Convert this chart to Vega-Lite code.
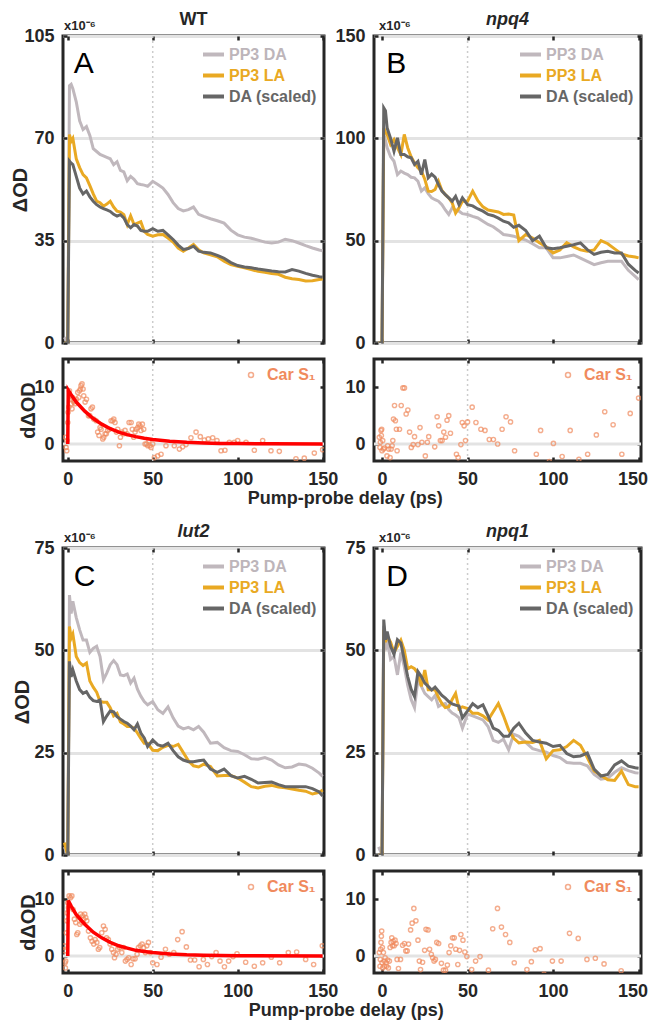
{
 "$schema": "https://vega.github.io/schema/vega-lite/v6.json",
 "background": "white",
 "padding": {"left": 9, "top": 9, "right": 0, "bottom": 0},
 "config": {
  "font": "Liberation Sans",
  "view": {"stroke": "#262626", "strokeWidth": 3},
  "axis": {"labelFont": "Liberation Sans", "labelFontSize": 18, "labelFontWeight": "bold", "labelColor": "#262626", "titleFont": "Liberation Sans", "titleFontSize": 20, "titleFontWeight": "bold", "titleColor": "#262626", "domain": false, "tickColor": "#262626", "tickWidth": 2.5, "tickSize": -4, "labelPadding": 13, "grid": false, "labelFlush": false},
  "axisY": {"grid": true, "gridColor": "#e3e3e3", "gridWidth": 3},
  "title": {"font": "Liberation Sans", "fontSize": 18, "fontWeight": "bold", "color": "#262626", "offset": -9},
  "legend": {"labelFont": "Liberation Sans", "labelFontWeight": "bold", "labelFontSize": 16, "padding": 0}
 },
 "datasets": {
  "A": [
   {"t":-2,"da":2,"la":0,"ds":0},{"t":0,"da":0,"la":0,"ds":0},{"t":1,"da":88,"la":71.3,"ds":62.2},{"t":2,"da":88.5,"la":69,"ds":61.5},{"t":3,"da":87,"la":70,"ds":61},{"t":5,"da":82.5,"la":63,"ds":57},{"t":7,"da":76,"la":60,"ds":53},{"t":9,"da":73,"la":57.6,"ds":51},{"t":11,"da":74,"la":56.5,"ds":52},{"t":13,"da":71,"la":53.8,"ds":50},{"t":15,"da":66.5,"la":51,"ds":48.5},{"t":17,"da":65.5,"la":48.5,"ds":47.3},{"t":19,"da":64.5,"la":48,"ds":46.5},{"t":21,"da":64,"la":46.8,"ds":46},{"t":23,"da":63.5,"la":47.5,"ds":45.5},{"t":25,"da":63,"la":48.5,"ds":45},{"t":27,"da":61,"la":46.5,"ds":44},{"t":29,"da":62,"la":45.1,"ds":43.4},{"t":31,"da":59,"la":44.8,"ds":43.9},{"t":33,"da":58.5,"la":43.9,"ds":42.8},{"t":35,"da":55.5,"la":40.5,"ds":40.5},{"t":37,"da":57,"la":43.5,"ds":39.4},{"t":39,"da":56,"la":40.5,"ds":40.5},{"t":41,"da":54.5,"la":41,"ds":40},{"t":43,"da":54.2,"la":41.5,"ds":38.5},{"t":45,"da":54,"la":38.2,"ds":38.2},{"t":47,"da":53.6,"la":37.1,"ds":38.2},{"t":50,"da":55.3,"la":36.5,"ds":39.1},{"t":53,"da":54.2,"la":37,"ds":38.2},{"t":56,"da":53,"la":37.1,"ds":38.5},{"t":59,"da":50.8,"la":35.9,"ds":37},{"t":62,"da":48,"la":34.5,"ds":35.4},{"t":65,"da":46,"la":32.5,"ds":33.5},{"t":68,"da":45.2,"la":31.4,"ds":32},{"t":71,"da":45.6,"la":32.5,"ds":32.3},{"t":74,"da":46.5,"la":33.7,"ds":33.1},{"t":77,"da":44,"la":31.9,"ds":31.4},{"t":80,"da":43.3,"la":30.8,"ds":31},{"t":84,"da":42.5,"la":30.2,"ds":30.8},{"t":88,"da":41.8,"la":29.5,"ds":30},{"t":92,"da":41,"la":28,"ds":29},{"t":96,"da":38.6,"la":26.8,"ds":27.5},{"t":100,"da":37,"la":26.2,"ds":26.5},{"t":104,"da":36.2,"la":25.7,"ds":26},{"t":108,"da":35.8,"la":25.1,"ds":25.7},{"t":112,"da":35.2,"la":24.5,"ds":25.3},{"t":116,"da":34.5,"la":24.2,"ds":25},{"t":120,"da":34.2,"la":23.8,"ds":24.6},{"t":124,"da":34.5,"la":23.5,"ds":24.4},{"t":128,"da":35.5,"la":22.5,"ds":24.3},{"t":132,"da":35,"la":22,"ds":25.1},{"t":136,"da":34.2,"la":21.7,"ds":24.6},{"t":140,"da":33.3,"la":21.2,"ds":23.8},{"t":144,"da":32.5,"la":21.3,"ds":23.2},{"t":148,"da":31.8,"la":21.7,"ds":22.7},{"t":150,"da":31.5,"la":21.9,"ds":22.5}
  ],
  "B": [
   {"t":-2,"da":0,"la":0,"ds":0},{"t":0,"da":0,"la":0,"ds":0},{"t":1,"da":101.9,"la":105,"ds":114.9},{"t":2,"da":99,"la":103,"ds":113.5},{"t":3,"da":95.4,"la":101.9,"ds":105},{"t":5,"da":91,"la":97,"ds":100},{"t":7,"da":88.8,"la":99.4,"ds":93.7},{"t":9,"da":82.3,"la":95.4,"ds":100.2},{"t":11,"da":84,"la":92,"ds":92.1},{"t":13,"da":83,"la":101.9,"ds":92.1},{"t":15,"da":82.3,"la":95.4,"ds":91},{"t":17,"da":81,"la":91,"ds":90.5},{"t":19,"da":80.7,"la":88,"ds":87.2},{"t":21,"da":79,"la":85.6,"ds":88.8},{"t":23,"da":74.2,"la":84,"ds":82.3},{"t":25,"da":75.8,"la":80,"ds":89.6},{"t":27,"da":73,"la":74.2,"ds":80.7},{"t":29,"da":70.9,"la":74,"ds":82.5},{"t":31,"da":70,"la":75,"ds":81},{"t":33,"da":69.3,"la":79,"ds":77.4},{"t":35,"da":67.6,"la":74.5,"ds":74.2},{"t":37,"da":65,"la":72.5,"ds":72.5},{"t":39,"da":62.8,"la":70.9,"ds":70.9},{"t":41,"da":66,"la":68.5,"ds":69.3},{"t":43,"da":65,"la":63.5,"ds":71.7},{"t":45,"da":64.4,"la":66,"ds":67.6},{"t":47,"da":63.2,"la":69.3,"ds":70.9},{"t":50,"da":62.8,"la":69.3,"ds":67.6},{"t":53,"da":61.9,"la":74.2,"ds":67},{"t":56,"da":61.1,"la":69.5,"ds":65.5},{"t":59,"da":59.5,"la":66.5,"ds":64.4},{"t":62,"da":57.9,"la":65,"ds":62.8},{"t":65,"da":56.8,"la":64.5,"ds":62.2},{"t":68,"da":55,"la":64,"ds":61},{"t":71,"da":53,"la":62.8,"ds":59.5},{"t":74,"da":52.6,"la":63,"ds":58.7},{"t":77,"da":52.2,"la":62.5,"ds":56.5},{"t":80,"da":51.3,"la":50,"ds":57.5},{"t":84,"da":50.3,"la":53,"ds":55},{"t":88,"da":48.5,"la":51.3,"ds":50},{"t":92,"da":46.5,"la":49,"ds":52.2},{"t":96,"da":46.5,"la":47,"ds":46.5},{"t":100,"da":41.6,"la":44,"ds":46},{"t":104,"da":41.6,"la":45.5,"ds":46.5},{"t":108,"da":42.3,"la":49,"ds":47.3},{"t":112,"da":43,"la":47,"ds":48},{"t":116,"da":41.5,"la":45.5,"ds":48.9},{"t":120,"da":39.9,"la":44.8,"ds":45.6},{"t":124,"da":38.3,"la":45.5,"ds":43.3},{"t":128,"da":39.2,"la":50,"ds":44.3},{"t":132,"da":39.9,"la":48.5,"ds":44.8},{"t":136,"da":39.9,"la":46,"ds":44},{"t":140,"da":39.9,"la":43.5,"ds":44},{"t":144,"da":35.5,"la":42.5,"ds":38.5},{"t":148,"da":32.5,"la":42,"ds":35.5},{"t":150,"da":31,"la":41.6,"ds":34.2}
  ],
  "C": [
   {"t":-2,"da":2,"la":3,"ds":0},{"t":0,"da":0,"la":0,"ds":0},{"t":1,"da":63.5,"la":55.8,"ds":47.3},{"t":2,"da":59,"la":53,"ds":43.5},{"t":3,"da":62,"la":54,"ds":45.2},{"t":5,"da":58,"la":48.5,"ds":42.5},{"t":7,"da":55,"la":47,"ds":40.4},{"t":9,"da":52.5,"la":46.3,"ds":39.5},{"t":11,"da":52.5,"la":46.9,"ds":39.9},{"t":13,"da":49.5,"la":42.5,"ds":38.5},{"t":15,"da":50.5,"la":41,"ds":37.7},{"t":17,"da":51,"la":39.8,"ds":37.5},{"t":19,"da":48.5,"la":37.5,"ds":37.9},{"t":21,"da":42.8,"la":37.3,"ds":32.6},{"t":23,"da":44.5,"la":37.3,"ds":34},{"t":25,"da":46.5,"la":36,"ds":35.2},{"t":27,"da":47.5,"la":34,"ds":35},{"t":29,"da":46.5,"la":34.6,"ds":33.8},{"t":31,"da":44,"la":32.5,"ds":33.2},{"t":33,"da":43.8,"la":32,"ds":32.6},{"t":35,"da":44.2,"la":31.4,"ds":32.2},{"t":37,"da":42,"la":31.4,"ds":31.5},{"t":39,"da":43.2,"la":31,"ds":30.6},{"t":41,"da":40.5,"la":29.8,"ds":32},{"t":43,"da":38.8,"la":28.5,"ds":29.8},{"t":45,"da":37.5,"la":27.3,"ds":28.6},{"t":47,"da":36.7,"la":27.3,"ds":26.5},{"t":50,"da":37.5,"la":25.6,"ds":28.1},{"t":53,"da":35.5,"la":25.5,"ds":26.9},{"t":56,"da":34.6,"la":26.3,"ds":26.6},{"t":59,"da":36.2,"la":26.8,"ds":27.3},{"t":62,"da":33.5,"la":26.5,"ds":25.5},{"t":65,"da":31.5,"la":27,"ds":24},{"t":68,"da":30.8,"la":25,"ds":23.2},{"t":71,"da":31.2,"la":23,"ds":22.8},{"t":74,"da":30.6,"la":21.8,"ds":22.8},{"t":77,"da":31.4,"la":21.5,"ds":23},{"t":80,"da":30,"la":22.2,"ds":23.2},{"t":84,"da":27.3,"la":21.6,"ds":21},{"t":88,"da":27.5,"la":19.3,"ds":20.2},{"t":92,"da":26.2,"la":19.4,"ds":21},{"t":96,"da":25.5,"la":19.4,"ds":19.4},{"t":100,"da":25.3,"la":18.8,"ds":18.8},{"t":104,"da":24.5,"la":17.8,"ds":19.2},{"t":108,"da":23.5,"la":16.7,"ds":18.5},{"t":112,"da":23.4,"la":16.4,"ds":17.6},{"t":116,"da":23.8,"la":16.8,"ds":17.7},{"t":120,"da":23.2,"la":17,"ds":17.8},{"t":124,"da":22,"la":16.6,"ds":17.2},{"t":128,"da":21.3,"la":16.4,"ds":16.7},{"t":132,"da":21.5,"la":16.1,"ds":16.7},{"t":136,"da":22.2,"la":15.8,"ds":16.7},{"t":140,"da":22,"la":15.6,"ds":16.7},{"t":144,"da":21.2,"la":14.9,"ds":16.2},{"t":148,"da":20,"la":15.3,"ds":15.4},{"t":150,"da":19.2,"la":15.9,"ds":14.4}
  ],
  "D": [
   {"t":-2,"da":2,"la":0,"ds":0},{"t":0,"da":0,"la":0,"ds":0},{"t":1,"da":56,"la":55,"ds":57.5},{"t":2,"da":50,"la":52,"ds":52.6},{"t":3,"da":52.5,"la":53.4,"ds":54.6},{"t":5,"da":47.8,"la":52,"ds":51},{"t":7,"da":48.5,"la":49.5,"ds":49},{"t":9,"da":44,"la":51,"ds":52.6},{"t":11,"da":49.5,"la":52.5,"ds":51.8},{"t":13,"da":46,"la":50,"ds":47.7},{"t":15,"da":41.5,"la":45.5,"ds":43.6},{"t":17,"da":38,"la":46,"ds":40.5},{"t":19,"da":36,"la":45.5,"ds":38.7},{"t":21,"da":42.8,"la":44.4,"ds":44.8},{"t":23,"da":41.2,"la":41.2,"ds":43.6},{"t":25,"da":39.5,"la":45.2,"ds":42},{"t":27,"da":38.7,"la":40.4,"ds":41.2},{"t":29,"da":37.9,"la":40.4,"ds":40.3},{"t":31,"da":39,"la":40.4,"ds":41},{"t":33,"da":36.3,"la":38.5,"ds":40},{"t":35,"da":36.8,"la":37,"ds":39},{"t":37,"da":37,"la":36,"ds":38.3},{"t":39,"da":35.5,"la":36.2,"ds":37.5},{"t":41,"da":34.7,"la":38,"ds":36.9},{"t":43,"da":34.2,"la":39.5,"ds":36.6},{"t":45,"da":33.5,"la":35.7,"ds":36.4},{"t":47,"da":31,"la":36.2,"ds":33.5},{"t":50,"da":34.4,"la":35.8,"ds":35.2},{"t":53,"da":34,"la":34.6,"ds":37},{"t":56,"da":33.5,"la":34.6,"ds":36},{"t":59,"da":33,"la":34,"ds":36.7},{"t":62,"da":31.4,"la":33,"ds":34},{"t":65,"da":28,"la":35,"ds":31},{"t":68,"da":27.5,"la":37,"ds":30.4},{"t":71,"da":28.3,"la":34,"ds":29},{"t":74,"da":25.7,"la":30.6,"ds":29},{"t":77,"da":29.5,"la":28.5,"ds":31},{"t":80,"da":29,"la":27.4,"ds":32.2},{"t":84,"da":27.5,"la":27.6,"ds":29.8},{"t":88,"da":26,"la":27.5,"ds":28},{"t":92,"da":25.5,"la":28,"ds":27.6},{"t":96,"da":25.1,"la":23.5,"ds":27.3},{"t":100,"da":24.3,"la":25.5,"ds":26.5},{"t":104,"da":23.8,"la":25.7,"ds":26.8},{"t":108,"da":22.6,"la":26.5,"ds":24.8},{"t":112,"da":22.4,"la":28,"ds":24},{"t":116,"da":22.4,"la":26.8,"ds":24.2},{"t":120,"da":21.8,"la":23.8,"ds":24.9},{"t":124,"da":19.7,"la":20.5,"ds":21},{"t":128,"da":18.5,"la":19.4,"ds":19.3},{"t":132,"da":18.8,"la":18.4,"ds":19.7},{"t":136,"da":20.2,"la":18.2,"ds":22},{"t":140,"da":21.3,"la":20.5,"ds":23},{"t":144,"da":20.6,"la":17.2,"ds":21.7},{"t":148,"da":20.1,"la":16.7,"ds":21.3},{"t":150,"da":20,"la":16.7,"ds":21.2}
  ],
  "sA": [
   {"t":-1.4,"v":1.2},{"t":-1,"v":-0.6},{"t":-0.6,"v":-1.2},{"t":-0.4,"v":0.6},{"t":0,"v":3.8},{"t":0.2,"v":5.6},{"t":0.6,"v":6.5},{"t":1,"v":9.4},{"t":1.4,"v":8.5},{"t":2,"v":7.1},{"t":2.4,"v":7.9},{"t":2.5,"v":6.2},{"t":2.9,"v":8.2},{"t":3.5,"v":7.4},{"t":3.9,"v":7.6},{"t":4.3,"v":7.1},{"t":5.1,"v":7.9},{"t":5.9,"v":9.1},{"t":6.5,"v":8.2},{"t":6.9,"v":9.4},{"t":7.5,"v":9.7},{"t":7.8,"v":10.3},{"t":8.4,"v":10.6},{"t":9,"v":9.7},{"t":9.4,"v":8.5},{"t":10.2,"v":7.4},{"t":11,"v":7.9},{"t":12.2,"v":5},{"t":12.9,"v":5},{"t":13.7,"v":6.2},{"t":14.5,"v":6.5},{"t":15.3,"v":4.4},{"t":16.7,"v":4.1},{"t":17.6,"v":2.1},{"t":18.4,"v":1.5},{"t":19,"v":2.9},{"t":19.6,"v":2.6},{"t":20.6,"v":0.9},{"t":21.2,"v":1.2},{"t":22,"v":1.8},{"t":22.7,"v":1.8},{"t":23.5,"v":2.4},{"t":24.5,"v":2.6},{"t":25.5,"v":4.1},{"t":26.5,"v":4.1},{"t":27.1,"v":4.4},{"t":27.8,"v":3.8},{"t":28.6,"v":2.1},{"t":29.4,"v":2.6},{"t":30.4,"v":-0.3},{"t":31,"v":1.2},{"t":31.8,"v":2.1},{"t":32.7,"v":1.8},{"t":33.7,"v":2.4},{"t":34.9,"v":1.8},{"t":36.1,"v":3.8},{"t":37.3,"v":3.8},{"t":38,"v":2.6},{"t":38.8,"v":1.2},{"t":39.6,"v":2.1},{"t":40.2,"v":2.6},{"t":41.2,"v":2.9},{"t":41.8,"v":3.5},{"t":42.5,"v":3.2},{"t":43.1,"v":2.4},{"t":43.9,"v":3.5},{"t":44.7,"v":2.6},{"t":45.5,"v":0},{"t":46.3,"v":0},{"t":47.1,"v":-0.3},{"t":47.8,"v":0.6},{"t":48.4,"v":-0.3},{"t":49,"v":-0.6},{"t":50,"v":0},{"t":51,"v":-2.4},{"t":52.9,"v":-2.1},{"t":54.9,"v":-1.8},{"t":57.8,"v":-0.3},{"t":62.7,"v":-0.3},{"t":65.7,"v":-0.9},{"t":67.6,"v":-0.5},{"t":69.6,"v":-0.1},{"t":72.5,"v":1.1},{"t":75.5,"v":2.1},{"t":78,"v":1.3},{"t":80.4,"v":0.7},{"t":82.7,"v":0.9},{"t":85.3,"v":1.1},{"t":87.8,"v":0.6},{"t":90.2,"v":-1.2},{"t":92.5,"v":-1.1},{"t":95.1,"v":0.3},{"t":98,"v":0.3},{"t":100,"v":0.6},{"t":104.9,"v":0.3},{"t":109.8,"v":-1.1},{"t":114.7,"v":0.6},{"t":119.6,"v":-1.2},{"t":124.5,"v":-1.3},{"t":134.3,"v":-2.6},{"t":139.2,"v":-2.5},{"t":145.1,"v":-1.6},{"t":150,"v":-1}
  ],
  "sB": [
   {"t":-1.6,"v":1.2},{"t":-1.2,"v":-0.6},{"t":-1,"v":0.3},{"t":-0.6,"v":2.4},{"t":-0.4,"v":1.5},{"t":-0.2,"v":2.6},{"t":0,"v":-1.2},{"t":0.4,"v":0.6},{"t":0.8,"v":-0.9},{"t":1.4,"v":-0.7},{"t":2.9,"v":-2.1},{"t":3.3,"v":-0.3},{"t":3.9,"v":-0.9},{"t":4.7,"v":-2.4},{"t":5.3,"v":-0.9},{"t":5.9,"v":-0.3},{"t":6.3,"v":0.6},{"t":6.7,"v":4.4},{"t":7.3,"v":6.8},{"t":7.8,"v":4.1},{"t":8.4,"v":2.6},{"t":8.8,"v":-1.2},{"t":10.2,"v":2.6},{"t":11.2,"v":6.8},{"t":12.2,"v":9.9},{"t":13.1,"v":9.9},{"t":14.1,"v":5.3},{"t":15.1,"v":6},{"t":16.1,"v":2.1},{"t":17.1,"v":-0.6},{"t":18.2,"v":-0.1},{"t":19,"v":1.3},{"t":21,"v":-0.1},{"t":22.2,"v":2.9},{"t":23.3,"v":0.3},{"t":25.3,"v":-2.1},{"t":26.5,"v":0.3},{"t":27.3,"v":1.3},{"t":30.8,"v":-0.5},{"t":32.2,"v":4.8},{"t":33.1,"v":3.2},{"t":34.1,"v":0.6},{"t":35.1,"v":0.6},{"t":36.1,"v":2.1},{"t":37.1,"v":1.2},{"t":38,"v":4.2},{"t":39,"v":5},{"t":40,"v":1.9},{"t":43.5,"v":-1.8},{"t":44.5,"v":-2.4},{"t":46.1,"v":-0.1},{"t":46.9,"v":3.8},{"t":48,"v":3.2},{"t":48.8,"v":0.6},{"t":50,"v":3.9},{"t":52.7,"v":6.5},{"t":54.9,"v":3.8},{"t":57.8,"v":2.6},{"t":60.2,"v":2.4},{"t":62.7,"v":0.8},{"t":65.1,"v":0.8},{"t":67.6,"v":0},{"t":70.2,"v":2.6},{"t":72.5,"v":4.8},{"t":75.1,"v":3.9},{"t":77.5,"v":-1.2},{"t":90.2,"v":-1.8},{"t":92.7,"v":2.4},{"t":97.8,"v":-3.1},{"t":100.2,"v":0.1},{"t":105.3,"v":-2.2},{"t":110,"v":2.4},{"t":115.1,"v":-2.7},{"t":120.2,"v":-1.8},{"t":125.3,"v":1.6},{"t":130.2,"v":5.7},{"t":135.1,"v":3.4},{"t":140.2,"v":-1.8},{"t":145.1,"v":5.4},{"t":150,"v":8.1}
  ],
  "sC": [
   {"t":-2,"v":1.8},{"t":-1.8,"v":0.9},{"t":-1.6,"v":-1.2},{"t":-1.4,"v":-2.1},{"t":-1.2,"v":-0.9},{"t":-0.8,"v":4.1},{"t":-0.6,"v":6.2},{"t":-0.4,"v":7.6},{"t":0,"v":9.4},{"t":0.4,"v":8.5},{"t":0.8,"v":10.6},{"t":1.6,"v":10.3},{"t":2.4,"v":10.6},{"t":3.1,"v":8.2},{"t":3.9,"v":6.5},{"t":4.7,"v":5.9},{"t":5.3,"v":3.8},{"t":5.9,"v":4.1},{"t":6.5,"v":6.8},{"t":7.1,"v":5.6},{"t":7.6,"v":7.4},{"t":8.2,"v":5.9},{"t":8.8,"v":7.1},{"t":9.4,"v":6.5},{"t":10,"v":7.4},{"t":10.6,"v":6.8},{"t":11.2,"v":6.2},{"t":12.2,"v":4.4},{"t":13.3,"v":3.2},{"t":14.3,"v":2.6},{"t":15.3,"v":2.1},{"t":16.1,"v":2.9},{"t":17.1,"v":2.4},{"t":18,"v":1.2},{"t":18.8,"v":1.5},{"t":20,"v":4.1},{"t":21,"v":5.3},{"t":22,"v":4.7},{"t":22.9,"v":3.2},{"t":23.9,"v":2.9},{"t":24.9,"v":2.1},{"t":25.9,"v":1.2},{"t":26.9,"v":0.6},{"t":27.5,"v":-0.3},{"t":28.4,"v":0.3},{"t":29.4,"v":1.2},{"t":30.4,"v":1.5},{"t":31.8,"v":0.6},{"t":32.9,"v":1.5},{"t":33.9,"v":-0.9},{"t":34.9,"v":-0.6},{"t":35.9,"v":-0.3},{"t":37.3,"v":-1.5},{"t":38.4,"v":-0.5},{"t":39.6,"v":-0.5},{"t":40.8,"v":0.3},{"t":41.6,"v":1.5},{"t":42.7,"v":1.8},{"t":43.7,"v":2.1},{"t":44.7,"v":1.5},{"t":45.7,"v":0.6},{"t":46.5,"v":1.8},{"t":47.5,"v":2.4},{"t":48.6,"v":0.6},{"t":50,"v":-1.2},{"t":52.5,"v":-1.5},{"t":54.9,"v":-0.2},{"t":57.5,"v":1.2},{"t":59.8,"v":0.3},{"t":62.4,"v":0.6},{"t":64.7,"v":2.9},{"t":67.3,"v":4.3},{"t":69.8,"v":1.6},{"t":72.2,"v":-0.7},{"t":74.7,"v":-0.7},{"t":77.3,"v":-1.9},{"t":79.8,"v":-0.6},{"t":82.2,"v":-1.5},{"t":84.7,"v":-0.1},{"t":87.3,"v":0.6},{"t":89.6,"v":-0.9},{"t":92.2,"v":-1.9},{"t":94.7,"v":-0.9},{"t":97.3,"v":-0.1},{"t":99.6,"v":0.4},{"t":104.7,"v":-1.1},{"t":109.8,"v":-1.8},{"t":114.7,"v":-1.2},{"t":119.8,"v":-0.2},{"t":124.7,"v":-1.2},{"t":129.8,"v":0.6},{"t":134.7,"v":0.7},{"t":140,"v":-0.6},{"t":144.7,"v":-1.5},{"t":149.8,"v":1.8}
  ],
  "sD": [
   {"t":-1.6,"v":0.6},{"t":-1.2,"v":-1.8},{"t":-1,"v":-0.6},{"t":-0.8,"v":1.2},{"t":-0.6,"v":2.4},{"t":-0.4,"v":3.5},{"t":-0.2,"v":4.4},{"t":0,"v":-1.2},{"t":0.2,"v":1.5},{"t":0.4,"v":-2.1},{"t":0.8,"v":0.6},{"t":1.2,"v":-0.9},{"t":1.4,"v":-1.8},{"t":1.8,"v":-0.3},{"t":2.4,"v":-1.2},{"t":2.7,"v":-1.8},{"t":3.3,"v":-0.7},{"t":3.7,"v":-2.1},{"t":4.3,"v":-0.9},{"t":4.7,"v":1.5},{"t":5.3,"v":2.4},{"t":5.7,"v":3.2},{"t":6.1,"v":1.8},{"t":6.5,"v":2.6},{"t":7.1,"v":1.8},{"t":7.6,"v":2.8},{"t":8.2,"v":2.2},{"t":8.8,"v":-0.6},{"t":9.6,"v":-2.2},{"t":10.8,"v":-0.6},{"t":12,"v":1.9},{"t":13.1,"v":2.2},{"t":13.9,"v":0.9},{"t":14.7,"v":0.9},{"t":15.5,"v":2.1},{"t":16.7,"v":4.6},{"t":17.6,"v":5.8},{"t":18.6,"v":8.4},{"t":19.8,"v":6.2},{"t":21,"v":2.8},{"t":21.8,"v":-0.9},{"t":22.5,"v":-2.4},{"t":23.7,"v":-1.1},{"t":24.9,"v":1},{"t":25.7,"v":4.7},{"t":26.9,"v":4.6},{"t":27.8,"v":1.2},{"t":28.8,"v":0.3},{"t":29.6,"v":-0.3},{"t":30.4,"v":-0.9},{"t":31.2,"v":-0.6},{"t":32,"v":2.4},{"t":33.1,"v":2.2},{"t":34.7,"v":-1.3},{"t":35.9,"v":-2.5},{"t":37.1,"v":-2.5},{"t":38.2,"v":-1.6},{"t":39.2,"v":0.6},{"t":40.2,"v":1.8},{"t":41.2,"v":3.2},{"t":42.2,"v":3.2},{"t":43.1,"v":1.2},{"t":44.3,"v":-1.5},{"t":45.3,"v":1},{"t":46.1,"v":3.8},{"t":47.3,"v":2.8},{"t":48.4,"v":0.7},{"t":49.6,"v":-0.1},{"t":52.4,"v":-2.4},{"t":54.7,"v":-0.9},{"t":57.3,"v":-0.1},{"t":62.2,"v":-2.5},{"t":64.7,"v":4.8},{"t":67.5,"v":8.4},{"t":69.8,"v":5.1},{"t":72.2,"v":3.8},{"t":74.7,"v":2.4},{"t":77.3,"v":-1.2},{"t":84.7,"v":-2.4},{"t":87.3,"v":-1},{"t":89.6,"v":1.1},{"t":92.4,"v":1.3},{"t":94.7,"v":-3.2},{"t":99.6,"v":-0.9},{"t":104.7,"v":-0.9},{"t":109.6,"v":4},{"t":114.7,"v":3.1},{"t":119.8,"v":-0.6},{"t":124.7,"v":-0.4},{"t":129.8,"v":-1.4},{"t":139.8,"v":-2.6}
  ],
  "fA": [
   {"t":0,"v":0},{"t":0.3,"v":9.5},{"t":2,"v":8.7},{"t":5,"v":7.4},{"t":10,"v":5.8},{"t":15,"v":4.5},{"t":20,"v":3.5},{"t":25,"v":2.7},{"t":30,"v":2.1},{"t":35,"v":1.65},{"t":40,"v":1.3},{"t":45,"v":1},{"t":50,"v":0.8},{"t":60,"v":0.5},{"t":70,"v":0.3},{"t":80,"v":0.18},{"t":90,"v":0.11},{"t":100,"v":0.07},{"t":120,"v":0.03},{"t":150,"v":0.01}
  ],
  "fC": [
   {"t":0,"v":0},{"t":0.3,"v":9.8},{"t":2,"v":8.8},{"t":5,"v":7.3},{"t":10,"v":5.6},{"t":15,"v":4.2},{"t":20,"v":3.2},{"t":25,"v":2.4},{"t":30,"v":1.8},{"t":35,"v":1.4},{"t":40,"v":1},{"t":45,"v":0.8},{"t":50,"v":0.6},{"t":60,"v":0.35},{"t":70,"v":0.2},{"t":80,"v":0.12},{"t":100,"v":0.04},{"t":150,"v":0}
  ]
 },
 "resolve": {"scale": {"color": "independent", "x": "independent", "y": "independent"}},
 "spacing": 13,
 "vconcat": [
  {
   "title": {"text": "Pump-probe delay (ps)", "orient": "bottom", "anchor": "middle", "fontSize": 18, "offset": 0, "dx": 16},
   "columns": 2,
   "bounds": "flush",
   "align": "each",
   "spacing": {"row": 16, "column": 50},
   "resolve": {"scale": {"color": "independent", "x": "independent", "y": "independent"}},
   "concat": [
    {
     "title": {"text": "WT"},
     "width": 261, "height": 307,
     "resolve": {"axis": {"x": "independent", "y": "independent"}},
     "layer": [
      {"data": {"values": [{}]}, "mark": {"type": "rule", "strokeDash": [2, 3], "color": "#cccccc", "strokeWidth": 1.5}, "encoding": {"x": {"datum": 50, "axis": {"orient": "top", "values": [0, 50, 100, 150], "labels": false, "title": null}}}},
      {"data": {"name": "A"}, "transform": [{"fold": ["da", "la", "ds"], "as": ["s", "v"]}],
       "mark": {"type": "line", "strokeWidth": 3, "clip": true},
       "encoding": {
        "x": {"field": "t", "type": "quantitative", "scale": {"domain": [-2.8, 150.8], "nice": false, "zero": false}, "axis": {"values": [0, 50, 100, 150], "labels": false, "title": null}},
        "y": {"field": "v", "type": "quantitative", "scale": {"domain": [0, 105], "nice": false}, "axis": {"values": [0, 35, 70, 105], "title": "ΔOD", "titlePadding": -7}},
        "color": {"field": "s", "type": "nominal", "scale": {"domain": ["da", "la", "ds"], "range": ["#c0b8bd", "#e9a923", "#666666"]},
         "legend": {"orient": "top-right", "offset": 6, "title": null, "symbolType": "stroke", "symbolSize": 441, "symbolStrokeWidth": 4, "labelOffset": 3, "rowPadding": 0,
          "labelExpr": "datum.value == 'da' ? 'PP3 DA' : datum.value == 'la' ? 'PP3 LA' : 'DA (scaled)'",
          "encode": {"labels": {"update": {"fill": {"signal": "datum.value == 'da' ? '#bdb5ba' : datum.value == 'la' ? '#e9a923' : '#666666'"}}}}}}
       }},
      {"data": {"values": [{}]}, "mark": {"type": "text", "text": "A", "fontSize": 30, "fontWeight": "normal", "align": "left", "baseline": "alphabetic", "color": "#000000"}, "encoding": {"x": {"datum": 3.5, "axis": null}, "y": {"datum": 92.3, "axis": null}}},
      {"data": {"values": [{}]}, "mark": {"type": "text", "text": "x10⁻⁶", "fontSize": 13, "fontWeight": "bold", "align": "left", "baseline": "bottom", "dy": -3, "color": "#262626"}, "encoding": {"x": {"datum": -2.2, "axis": null}, "y": {"datum": 105, "axis": {"orient": "right", "values": [0, 35, 70, 105], "labels": false, "title": null, "grid": false}}}}
     ]
    },
    {
     "title": {"text": "npq4", "fontStyle": "italic"},
     "width": 267, "height": 307,
     "resolve": {"axis": {"x": "independent", "y": "independent"}},
     "layer": [
      {"data": {"values": [{}]}, "mark": {"type": "rule", "strokeDash": [2, 3], "color": "#cccccc", "strokeWidth": 1.5}, "encoding": {"x": {"datum": 50, "axis": {"orient": "top", "values": [0, 50, 100, 150], "labels": false, "title": null}}}},
      {"data": {"name": "B"}, "transform": [{"fold": ["da", "la", "ds"], "as": ["s", "v"]}],
       "mark": {"type": "line", "strokeWidth": 3, "clip": true},
       "encoding": {
        "x": {"field": "t", "type": "quantitative", "scale": {"domain": [-4.7, 151.4], "nice": false, "zero": false}, "axis": {"values": [0, 50, 100, 150], "labels": false, "title": null}},
        "y": {"field": "v", "type": "quantitative", "scale": {"domain": [0, 150], "nice": false}, "axis": {"values": [0, 50, 100, 150], "title": null}},
        "color": {"field": "s", "type": "nominal", "scale": {"domain": ["da", "la", "ds"], "range": ["#c0b8bd", "#e9a923", "#666666"]},
         "legend": {"orient": "top-right", "offset": 6, "title": null, "symbolType": "stroke", "symbolSize": 441, "symbolStrokeWidth": 4, "labelOffset": 3, "rowPadding": 0,
          "labelExpr": "datum.value == 'da' ? 'PP3 DA' : datum.value == 'la' ? 'PP3 LA' : 'DA (scaled)'",
          "encode": {"labels": {"update": {"fill": {"signal": "datum.value == 'da' ? '#bdb5ba' : datum.value == 'la' ? '#e9a923' : '#666666'"}}}}}}
       }},
      {"data": {"values": [{}]}, "mark": {"type": "text", "text": "B", "fontSize": 30, "fontWeight": "normal", "align": "left", "baseline": "alphabetic", "color": "#000000"}, "encoding": {"x": {"datum": 2.4, "axis": null}, "y": {"datum": 132, "axis": null}}},
      {"data": {"values": [{}]}, "mark": {"type": "text", "text": "x10⁻⁶", "fontSize": 13, "fontWeight": "bold", "align": "left", "baseline": "bottom", "dy": -3, "color": "#262626"}, "encoding": {"x": {"datum": -1.8, "axis": null}, "y": {"datum": 150, "axis": {"orient": "right", "values": [0, 50, 100, 150], "labels": false, "title": null, "grid": false}}}}
     ]
    },
    {
     "width": 261, "height": 102,
     "resolve": {"axis": {"x": "independent", "y": "independent"}},
     "layer": [
      {"data": {"values": [{}]}, "mark": {"type": "rule", "color": "#e3e3e3", "strokeWidth": 3}, "encoding": {"y": {"datum": 0, "axis": {"orient": "right", "values": [0, 10], "labels": false, "title": null, "grid": false}}}},
      {"data": {"values": [{}]}, "mark": {"type": "rule", "strokeDash": [2, 3], "color": "#cccccc", "strokeWidth": 1.5}, "encoding": {"x": {"datum": 50, "axis": {"orient": "top", "values": [0, 50, 100, 150], "labels": false, "title": null}}}},
      {"data": {"name": "sA"}, "mark": {"type": "point", "shape": "circle", "filled": false, "size": 18, "strokeWidth": 1.4, "clip": true},
       "encoding": {
        "x": {"field": "t", "type": "quantitative", "scale": {"domain": [-2.8, 150.8], "nice": false, "zero": false}, "axis": {"values": [0, 50, 100, 150], "title": null}},
        "y": {"field": "v", "type": "quantitative", "scale": {"domain": [-3, 15], "nice": false}, "axis": {"values": [0, 10], "title": "dΔOD", "titlePadding": -5}},
        "color": {"datum": "Car S₁", "scale": {"range": ["#f08a5d"]}, "legend": {"orient": "top-right", "offset": 8, "title": null, "symbolType": "circle", "symbolSize": 25, "symbolStrokeWidth": 1.5, "labelColor": "#f08a5d", "labelOffset": 8}}
       }},
      {"data": {"name": "fA"}, "mark": {"type": "line", "color": "#ff0000", "strokeWidth": 3.5, "clip": true},
       "encoding": {"x": {"field": "t", "type": "quantitative", "axis": null}, "y": {"field": "v", "type": "quantitative", "axis": null}}}
     ]
    },
    {
     "width": 267, "height": 102,
     "resolve": {"axis": {"x": "independent", "y": "independent"}},
     "layer": [
      {"data": {"values": [{}]}, "mark": {"type": "rule", "color": "#e3e3e3", "strokeWidth": 3}, "encoding": {"y": {"datum": 0, "axis": {"orient": "right", "values": [0, 10], "labels": false, "title": null, "grid": false}}}},
      {"data": {"values": [{}]}, "mark": {"type": "rule", "strokeDash": [2, 3], "color": "#cccccc", "strokeWidth": 1.5}, "encoding": {"x": {"datum": 50, "axis": {"orient": "top", "values": [0, 50, 100, 150], "labels": false, "title": null}}}},
      {"data": {"name": "sB"}, "mark": {"type": "point", "shape": "circle", "filled": false, "size": 18, "strokeWidth": 1.4, "clip": true},
       "encoding": {
        "x": {"field": "t", "type": "quantitative", "scale": {"domain": [-4.7, 151.4], "nice": false, "zero": false}, "axis": {"values": [0, 50, 100, 150], "title": null, "labelFlush": 5, "labelFlushOffset": 9}},
        "y": {"field": "v", "type": "quantitative", "scale": {"domain": [-3, 15], "nice": false}, "axis": {"values": [0, 10], "title": null}},
        "color": {"datum": "Car S₁", "scale": {"range": ["#f08a5d"]}, "legend": {"orient": "top-right", "offset": 8, "title": null, "symbolType": "circle", "symbolSize": 25, "symbolStrokeWidth": 1.5, "labelColor": "#f08a5d", "labelOffset": 8}}
       }}
     ]
    }
   ]
  },
  {
   "title": {"text": "Pump-probe delay (ps)", "orient": "bottom", "anchor": "middle", "fontSize": 18, "offset": 0, "dx": 16},
   "columns": 2,
   "bounds": "flush",
   "align": "each",
   "spacing": {"row": 16, "column": 50},
   "resolve": {"scale": {"color": "independent", "x": "independent", "y": "independent"}},
   "concat": [
    {
     "title": {"text": "lut2", "fontStyle": "italic"},
     "width": 261, "height": 307,
     "resolve": {"axis": {"x": "independent", "y": "independent"}},
     "layer": [
      {"data": {"values": [{}]}, "mark": {"type": "rule", "strokeDash": [2, 3], "color": "#cccccc", "strokeWidth": 1.5}, "encoding": {"x": {"datum": 50, "axis": {"orient": "top", "values": [0, 50, 100, 150], "labels": false, "title": null}}}},
      {"data": {"name": "C"}, "transform": [{"fold": ["da", "la", "ds"], "as": ["s", "v"]}],
       "mark": {"type": "line", "strokeWidth": 3, "clip": true},
       "encoding": {
        "x": {"field": "t", "type": "quantitative", "scale": {"domain": [-2.8, 150.8], "nice": false, "zero": false}, "axis": {"values": [0, 50, 100, 150], "labels": false, "title": null}},
        "y": {"field": "v", "type": "quantitative", "scale": {"domain": [0, 75], "nice": false}, "axis": {"values": [0, 25, 50, 75], "title": "ΔOD", "titlePadding": 1}},
        "color": {"field": "s", "type": "nominal", "scale": {"domain": ["da", "la", "ds"], "range": ["#c0b8bd", "#e9a923", "#666666"]},
         "legend": {"orient": "top-right", "offset": 6, "title": null, "symbolType": "stroke", "symbolSize": 441, "symbolStrokeWidth": 4, "labelOffset": 3, "rowPadding": 0,
          "labelExpr": "datum.value == 'da' ? 'PP3 DA' : datum.value == 'la' ? 'PP3 LA' : 'DA (scaled)'",
          "encode": {"labels": {"update": {"fill": {"signal": "datum.value == 'da' ? '#bdb5ba' : datum.value == 'la' ? '#e9a923' : '#666666'"}}}}}}
       }},
      {"data": {"values": [{}]}, "mark": {"type": "text", "text": "C", "fontSize": 30, "fontWeight": "normal", "align": "left", "baseline": "alphabetic", "color": "#000000"}, "encoding": {"x": {"datum": 3.5, "axis": null}, "y": {"datum": 65.7, "axis": null}}},
      {"data": {"values": [{}]}, "mark": {"type": "text", "text": "x10⁻⁶", "fontSize": 13, "fontWeight": "bold", "align": "left", "baseline": "bottom", "dy": -3, "color": "#262626"}, "encoding": {"x": {"datum": -2.2, "axis": null}, "y": {"datum": 75, "axis": {"orient": "right", "values": [0, 25, 50, 75], "labels": false, "title": null, "grid": false}}}}
     ]
    },
    {
     "title": {"text": "npq1", "fontStyle": "italic"},
     "width": 267, "height": 307,
     "resolve": {"axis": {"x": "independent", "y": "independent"}},
     "layer": [
      {"data": {"values": [{}]}, "mark": {"type": "rule", "strokeDash": [2, 3], "color": "#cccccc", "strokeWidth": 1.5}, "encoding": {"x": {"datum": 50, "axis": {"orient": "top", "values": [0, 50, 100, 150], "labels": false, "title": null}}}},
      {"data": {"name": "D"}, "transform": [{"fold": ["da", "la", "ds"], "as": ["s", "v"]}],
       "mark": {"type": "line", "strokeWidth": 3, "clip": true},
       "encoding": {
        "x": {"field": "t", "type": "quantitative", "scale": {"domain": [-4.7, 151.4], "nice": false, "zero": false}, "axis": {"values": [0, 50, 100, 150], "labels": false, "title": null}},
        "y": {"field": "v", "type": "quantitative", "scale": {"domain": [0, 75], "nice": false}, "axis": {"values": [0, 25, 50, 75], "title": null}},
        "color": {"field": "s", "type": "nominal", "scale": {"domain": ["da", "la", "ds"], "range": ["#c0b8bd", "#e9a923", "#666666"]},
         "legend": {"orient": "top-right", "offset": 6, "title": null, "symbolType": "stroke", "symbolSize": 441, "symbolStrokeWidth": 4, "labelOffset": 3, "rowPadding": 0,
          "labelExpr": "datum.value == 'da' ? 'PP3 DA' : datum.value == 'la' ? 'PP3 LA' : 'DA (scaled)'",
          "encode": {"labels": {"update": {"fill": {"signal": "datum.value == 'da' ? '#bdb5ba' : datum.value == 'la' ? '#e9a923' : '#666666'"}}}}}}
       }},
      {"data": {"values": [{}]}, "mark": {"type": "text", "text": "D", "fontSize": 30, "fontWeight": "normal", "align": "left", "baseline": "alphabetic", "color": "#000000"}, "encoding": {"x": {"datum": 2.4, "axis": null}, "y": {"datum": 65.7, "axis": null}}},
      {"data": {"values": [{}]}, "mark": {"type": "text", "text": "x10⁻⁶", "fontSize": 13, "fontWeight": "bold", "align": "left", "baseline": "bottom", "dy": -3, "color": "#262626"}, "encoding": {"x": {"datum": -1.8, "axis": null}, "y": {"datum": 75, "axis": {"orient": "right", "values": [0, 25, 50, 75], "labels": false, "title": null, "grid": false}}}}
     ]
    },
    {
     "width": 261, "height": 102,
     "resolve": {"axis": {"x": "independent", "y": "independent"}},
     "layer": [
      {"data": {"values": [{}]}, "mark": {"type": "rule", "color": "#e3e3e3", "strokeWidth": 3}, "encoding": {"y": {"datum": 0, "axis": {"orient": "right", "values": [0, 10], "labels": false, "title": null, "grid": false}}}},
      {"data": {"values": [{}]}, "mark": {"type": "rule", "strokeDash": [2, 3], "color": "#cccccc", "strokeWidth": 1.5}, "encoding": {"x": {"datum": 50, "axis": {"orient": "top", "values": [0, 50, 100, 150], "labels": false, "title": null}}}},
      {"data": {"name": "sC"}, "mark": {"type": "point", "shape": "circle", "filled": false, "size": 18, "strokeWidth": 1.4, "clip": true},
       "encoding": {
        "x": {"field": "t", "type": "quantitative", "scale": {"domain": [-2.8, 150.8], "nice": false, "zero": false}, "axis": {"values": [0, 50, 100, 150], "title": null}},
        "y": {"field": "v", "type": "quantitative", "scale": {"domain": [-3, 15], "nice": false}, "axis": {"values": [0, 10], "title": "dΔOD", "titlePadding": -5}},
        "color": {"datum": "Car S₁", "scale": {"range": ["#f08a5d"]}, "legend": {"orient": "top-right", "offset": 8, "title": null, "symbolType": "circle", "symbolSize": 25, "symbolStrokeWidth": 1.5, "labelColor": "#f08a5d", "labelOffset": 8}}
       }},
      {"data": {"name": "fC"}, "mark": {"type": "line", "color": "#ff0000", "strokeWidth": 3.5, "clip": true},
       "encoding": {"x": {"field": "t", "type": "quantitative", "axis": null}, "y": {"field": "v", "type": "quantitative", "axis": null}}}
     ]
    },
    {
     "width": 267, "height": 102,
     "resolve": {"axis": {"x": "independent", "y": "independent"}},
     "layer": [
      {"data": {"values": [{}]}, "mark": {"type": "rule", "color": "#e3e3e3", "strokeWidth": 3}, "encoding": {"y": {"datum": 0, "axis": {"orient": "right", "values": [0, 10], "labels": false, "title": null, "grid": false}}}},
      {"data": {"values": [{}]}, "mark": {"type": "rule", "strokeDash": [2, 3], "color": "#cccccc", "strokeWidth": 1.5}, "encoding": {"x": {"datum": 50, "axis": {"orient": "top", "values": [0, 50, 100, 150], "labels": false, "title": null}}}},
      {"data": {"name": "sD"}, "mark": {"type": "point", "shape": "circle", "filled": false, "size": 18, "strokeWidth": 1.4, "clip": true},
       "encoding": {
        "x": {"field": "t", "type": "quantitative", "scale": {"domain": [-4.7, 151.4], "nice": false, "zero": false}, "axis": {"values": [0, 50, 100, 150], "title": null, "labelFlush": 5, "labelFlushOffset": 9}},
        "y": {"field": "v", "type": "quantitative", "scale": {"domain": [-3, 15], "nice": false}, "axis": {"values": [0, 10], "title": null}},
        "color": {"datum": "Car S₁", "scale": {"range": ["#f08a5d"]}, "legend": {"orient": "top-right", "offset": 8, "title": null, "symbolType": "circle", "symbolSize": 25, "symbolStrokeWidth": 1.5, "labelColor": "#f08a5d", "labelOffset": 8}}
       }}
     ]
    }
   ]
  }
 ]
}
